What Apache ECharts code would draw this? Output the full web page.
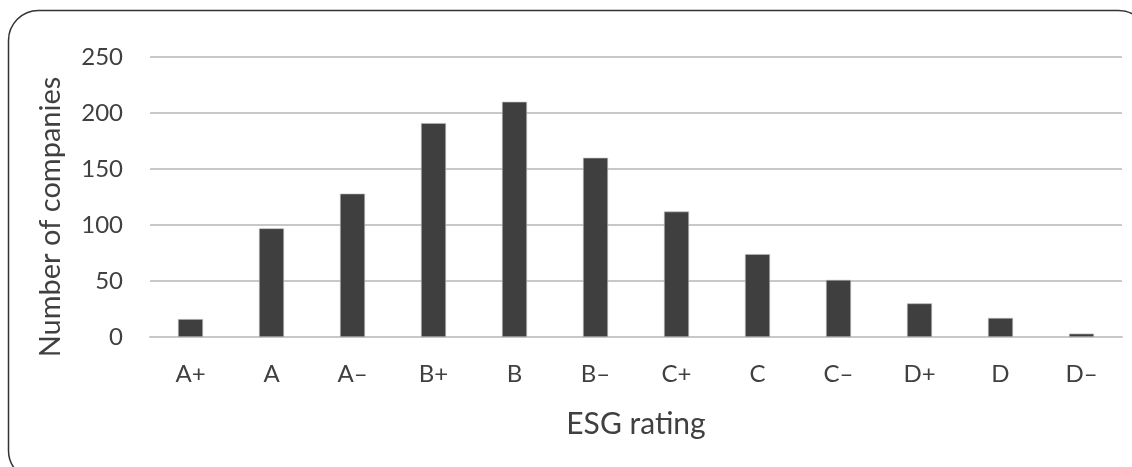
<!DOCTYPE html>
<html>
<head>
<meta charset="utf-8">
<script src="https://cdn.jsdelivr.net/npm/echarts@6/dist/echarts.min.js"></script>
<style>
  html, body { margin: 0; padding: 0; background: #fff; }
  #chart { width: 1132px; height: 467px; }
</style>
</head>
<body>
<div id="chart"></div>
<script>
// ESG rating distribution
const ratings = ['A+', 'A', 'A\u2013', 'B+', 'B', 'B\u2013', 'C+', 'C', 'C\u2013', 'D+', 'D', 'D\u2013'];
const companyCounts = [16, 97, 128, 191, 210, 160, 112, 74, 51, 30, 17, 3];
const yTicks = { min: 0, max: 250, interval: 50 };

const textColor = '#404040';
const fontFamily = 'Lato, "Open Sans", sans-serif';

const chart = echarts.init(document.getElementById('chart'), null, { renderer: 'canvas' });
chart.setOption({
  backgroundColor: '#ffffff',
  animation: false,
  graphic: [{
    type: 'rect',
    shape: { x: 8.5, y: 10.5, width: 1140, height: 470, r: 30 },
    style: { fill: 'none', stroke: '#333333', lineWidth: 1.5 },
    silent: true
  }],
  grid: { left: 150, right: 10, top: 57, bottom: 130, containLabel: false },
  xAxis: {
    type: 'category',
    data: ratings,
    name: 'ESG rating',
    nameLocation: 'middle',
    nameGap: 72,
    nameTextStyle: { color: textColor, fontSize: 30, fontFamily: fontFamily },
    axisLine: { show: true, lineStyle: { color: '#c8c8c8', width: 2 } },
    axisTick: { show: false },
    axisLabel: { color: textColor, fontSize: 24, fontFamily: fontFamily, margin: 25 }
  },
  yAxis: {
    type: 'value',
    min: yTicks.min,
    max: yTicks.max,
    interval: yTicks.interval,
    name: 'Number of companies',
    nameLocation: 'middle',
    nameGap: 85,
    // right padding nudges the rotated title slightly downward
    nameTextStyle: { color: textColor, fontSize: 29, fontFamily: fontFamily, padding: [0, 40, 0, 0] },
    axisLine: { show: false },
    axisTick: { show: false },
    axisLabel: { color: textColor, fontSize: 24, fontFamily: fontFamily, margin: 27 },
    splitLine: { lineStyle: { color: '#c8c8c8', width: 2 } }
  },
  series: [{
    type: 'bar',
    data: companyCounts,
    barWidth: 25,
    itemStyle: { color: '#3f3f3f', borderColor: '#bdbdbd', borderWidth: 0.6 }
  }]
});
</script>
</body>
</html>
